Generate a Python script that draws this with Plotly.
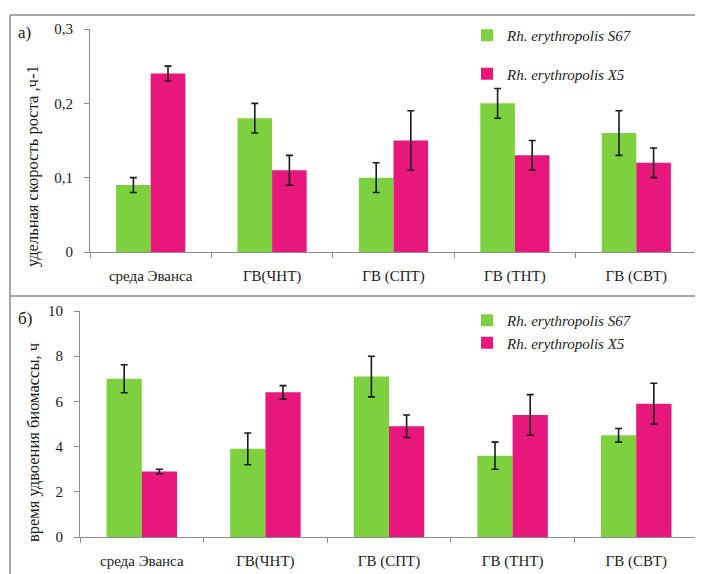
import plotly.graph_objects as go

categories = ["среда Эванса", "ГВ(ЧНТ)", "ГВ (СПТ)", "ГВ (ТНТ)", "ГВ (СВТ)"]
series_names = ["Rh. erythropolis S67", "Rh. erythropolis X5"]

rate_s67 = [0.09, 0.18, 0.10, 0.20, 0.16]
rate_s67_err = [0.01, 0.02, 0.02, 0.02, 0.03]
rate_x5 = [0.24, 0.11, 0.15, 0.13, 0.12]
rate_x5_err = [0.01, 0.02, 0.04, 0.02, 0.02]

dbl_s67 = [7.0, 3.9, 7.1, 3.6, 4.5]
dbl_s67_err = [0.62, 0.7, 0.9, 0.6, 0.3]
dbl_x5 = [2.9, 6.4, 4.9, 5.4, 5.9]
dbl_x5_err = [0.1, 0.3, 0.5, 0.9, 0.9]

rate_ticks = [0, 0.1, 0.2, 0.3]
rate_tick_labels = ["0", "0,1", "0,2", "0,3"]
dbl_ticks = [0, 2, 4, 6, 8, 10]

GREEN = "#7ed13e"
MAGENTA = "#e8177b"
W, H = 703, 574
OFF = 8  # page body margin
SERIF = "Liberation Serif, Times New Roman, serif"

def px(x):
    return (x - OFF) / W

def py(y):
    return 1 - (y - OFF) / H

err_style = dict(type="data", color="#1a1a1a", thickness=1.6, width=3.5, visible=True)

fig = go.Figure()
fig.add_trace(go.Bar(x=categories, y=rate_s67, name=series_names[0], marker_color=GREEN,
                     error_y=dict(array=rate_s67_err, **err_style), xaxis="x", yaxis="y",
                     legend="legend", legendgroup="a1"))
fig.add_trace(go.Bar(x=categories, y=rate_x5, name=series_names[1], marker_color=MAGENTA,
                     error_y=dict(array=rate_x5_err, **err_style), xaxis="x", yaxis="y",
                     legend="legend", legendgroup="a2"))
fig.add_trace(go.Bar(x=categories, y=dbl_s67, name=series_names[0], marker_color=GREEN,
                     error_y=dict(array=dbl_s67_err, **err_style), xaxis="x2", yaxis="y2",
                     legend="legend2", legendgroup="b1"))
fig.add_trace(go.Bar(x=categories, y=dbl_x5, name=series_names[1], marker_color=MAGENTA,
                     error_y=dict(array=dbl_x5_err, **err_style), xaxis="x2", yaxis="y2",
                     legend="legend2", legendgroup="b2"))
fig.update_traces(marker_line_width=0)

axis_common = dict(showline=True, linecolor="#8c8c8c", linewidth=1, showgrid=False,
                   zeroline=False, ticks="outside", ticklen=5, tickcolor="#8c8c8c",
                   automargin=False,
                   tickfont=dict(family=SERIF, size=15, color="#1a1a1a"))

legend_common = dict(font=dict(family=SERIF, size=15, color="#222", style="italic"),
                     bgcolor="rgba(0,0,0,0)", traceorder="grouped", itemwidth=30,
                     xanchor="left", yanchor="top")

fig.update_layout(
    width=W, height=H, margin=dict(l=0, r=0, t=0, b=0, pad=0, autoexpand=False),
    paper_bgcolor="white", plot_bgcolor="white",
    font=dict(family=SERIF),
    separators=", ", barmode="group", bargap=0.43, bargroupgap=0,
    xaxis=dict(domain=[px(90), px(697)], anchor="y", type="category", tickson="boundaries",
               ticklabelstandoff=10, **axis_common),
    yaxis=dict(domain=[py(252), py(29)], anchor="x", range=[0, 0.3], tickvals=rate_ticks,
               ticktext=rate_tick_labels, ticklabelstandoff=8, **axis_common),
    xaxis2=dict(domain=[px(80), px(698)], anchor="y2", type="category", tickson="boundaries",
                ticklabelstandoff=10, **axis_common),
    yaxis2=dict(domain=[py(537), py(311)], anchor="x2", range=[0, 10], tickvals=dbl_ticks,
                ticklabelstandoff=8, **axis_common),
    legend=dict(x=px(467), y=py(19), tracegroupgap=16, **legend_common),
    legend2=dict(x=px(467), y=py(304), tracegroupgap=0, **legend_common),
    shapes=[
        dict(type="line", xref="paper", yref="paper", x0=px(10), x1=1, y0=py(15), y1=py(15),
             line=dict(color="#a6a6a6", width=2)),
        dict(type="line", xref="paper", yref="paper", x0=px(10), x1=1, y0=py(296), y1=py(296),
             line=dict(color="#a6a6a6", width=2)),
        dict(type="line", xref="paper", yref="paper", x0=px(10), x1=px(10), y0=py(15), y1=0,
             line=dict(color="#a6a6a6", width=2)),
    ],
    annotations=[
        dict(text="а)", xref="paper", yref="paper", x=px(16), y=py(33), xanchor="left",
             yanchor="middle", showarrow=False, font=dict(family=SERIF, size=17, color="#1a1a1a")),
        dict(text="б)", xref="paper", yref="paper", x=px(16), y=py(318), xanchor="left",
             yanchor="middle", showarrow=False, font=dict(family=SERIF, size=17, color="#1a1a1a")),
        dict(text="удельная скорость роста ,ч-1", xref="paper", yref="paper", x=px(33), y=py(166),
             textangle=-90, showarrow=False, xanchor="center", yanchor="middle",
             font=dict(family=SERIF, size=16.5, color="#1a1a1a")),
        dict(text="время удвоения биомассы, ч", xref="paper", yref="paper", x=px(33), y=py(443),
             textangle=-90, showarrow=False, xanchor="center", yanchor="middle",
             font=dict(family=SERIF, size=16.5, color="#1a1a1a")),
    ],
)

fig.write_html("out.html")
